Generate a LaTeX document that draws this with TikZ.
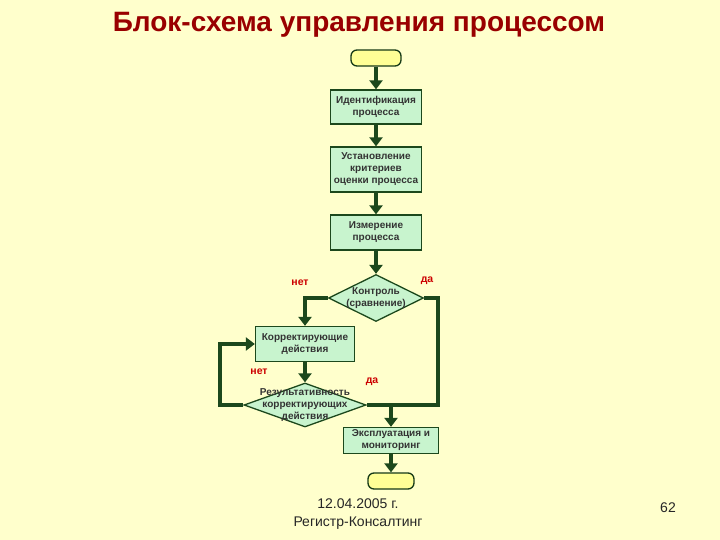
\documentclass[tikz,border=0pt]{standalone}
\usepackage{fontspec}
\setmainfont{Liberation Sans}
\usetikzlibrary{arrows.meta,positioning,shapes.geometric,calc}
\definecolor{slidebg}{RGB}{255,255,204}
\definecolor{linegreen}{RGB}{28,72,28}
\definecolor{boxgreen}{RGB}{200,244,206}
\definecolor{termyellow}{RGB}{255,255,150}
\definecolor{titlered}{RGB}{153,0,0}
\definecolor{answred}{RGB}{204,0,0}

\begin{document}
\begin{tikzpicture}[
      x=1pt, y=-1pt,
      every node/.style={font=\fontsize{10}{12}\selectfont\bfseries, text=black!80},
      pblock/.style={rectangle, draw=linegreen, line width=1.3pt, fill=boxgreen,
                     minimum width=91pt, minimum height=#1, align=center,
                     inner sep=1pt},
      dblock/.style 2 args={diamond, draw=linegreen, line width=1.3pt, fill=boxgreen,
                     minimum width=#1, minimum height=#2, inner sep=0pt},
      dtext/.style={align=center},
      tblock/.style={rectangle, rounded corners=6pt, draw=linegreen!80!black,
                     line width=1.3pt, fill=termyellow, minimum width=#1,
                     minimum height=16pt},
      flow/.style={line width=3.3pt, draw=linegreen},
      flowarr/.style={flow, -{Triangle[length=9pt,width=13pt]}},
      answ/.style={text=answred, font=\fontsize{10.5}{12}\selectfont\bfseries},
    ]
    \fill[slidebg] (0,0) rectangle (720,540);
    \useasboundingbox (0,0) rectangle (720,540);

    % Title
    \node[font=\fontsize{28}{32}\selectfont\bfseries, text=titlered] (title) at (359,25)
          {Блок-схема управления процессом};

    % Main column
    \node[tblock=50pt] (start) at (376,58) {};
    \node[pblock=34pt] (ident) at (376,107) {Идентификация\\ процесса};
    \node[pblock=45pt] (crit)  at (376,169.5) {Установление\\ критериев\\ оценки процесса};
    \node[pblock=35pt] (meas)  at (376,232.5) {Измерение\\ процесса};
    \node[dblock={95pt}{47pt}] (ctrl) at (376,298) {};
    \node[dtext] (ctrltxt) at (ctrl) {Контроль\\ (сравнение)};

    % Correction loop
    \node[pblock=35pt, minimum width=99pt] (corr) at (305,344) {Корректирующие\\ действия};
    \node[dblock={122pt}{44pt}] (eff) at (305,405) {};
    \node[dtext] (efftxt) at (eff) {Результативность\\ корректирующих\\ действия};

    % Exploitation and end
    \node[pblock=26pt, minimum width=95pt] (expl) at (391,440.5) {Эксплуатация и\\ мониторинг};
    \node[tblock=46pt] (stop) at (391,481) {};

    % Helper points
    \coordinate (rgt) at (438,405);
    \coordinate (mrg) at (391,405);
    \coordinate (lft) at (220,405);

    % Connectors
    \draw[flowarr] (start) -- (ident);
    \draw[flowarr] (ident) -- (crit);
    \draw[flowarr] (crit) -- (meas);
    \draw[flowarr] (meas) -- (ctrl);
    \draw[flowarr] (ctrl.west) -| (corr.north);
    \draw[flow] (ctrl.east) -| (rgt) -- (eff.east);
    \draw[flowarr] (corr) -- (eff);
    \draw[flowarr] (eff.west) -- (lft) |- (corr.west);
    \draw[flowarr] (mrg) -- (expl);
    \draw[flowarr] (expl) -- (stop);

    % Answers
    \node[answ] (no1)  at (300,283) {нет};
    \node[answ] (yes1) at (427,281) {да};
    \node[answ] (no2)  at (259,372) {нет};
    \node[answ] (yes2) at (372,382) {да};

    % Footer
    \node[font=\fontsize{14}{18}\selectfont\mdseries, text=black!85, align=center] (foot)
          at (358,514.5) {12.04.2005 г.\\ Регистр-Консалтинг};
    \node[font=\fontsize{14}{16}\selectfont\mdseries, text=black!85] (page) at (668,508) {62};
  \end{tikzpicture}
\end{document}
